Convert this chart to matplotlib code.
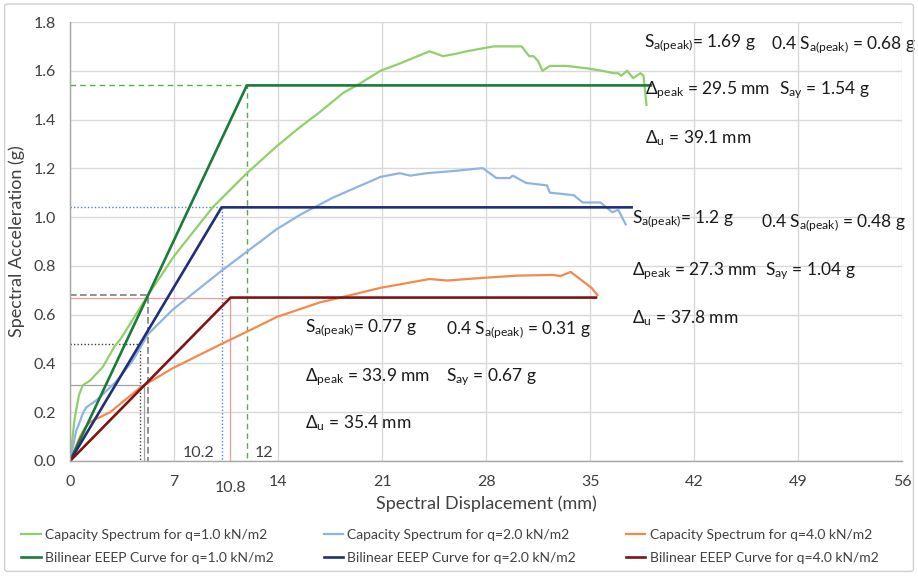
import matplotlib.pyplot as plt
from matplotlib.patches import FancyBboxPatch

plt.rcParams['font.family'] = ['Lato', 'DejaVu Sans']
plt.rcParams['mathtext.fontset'] = 'custom'
plt.rcParams['mathtext.rm'] = 'Lato'
plt.rcParams['mathtext.it'] = 'Lato'

# capacity spectra (Sd in mm, Sa in g)
cap1_sd = [0, 0.3, 0.6, 0.85, 1.35, 2.2, 3.0, 3.4, 5.25, 7.0, 9.6, 11.9, 13.9, 15.5, 16.8,
           18.4, 19.3, 20.9, 22.2, 24.2, 25.1, 26.0, 26.7, 28.5, 30.1, 30.4, 30.9, 31.2,
           31.5, 31.8, 32.3, 33.4, 34.8, 35.8, 36.6, 36.9, 37.1, 37.5, 37.9, 38.4, 38.6, 38.8]
cap1_sa = [0, 0.17, 0.27, 0.31, 0.33, 0.385, 0.47, 0.50, 0.68, 0.84, 1.04, 1.18, 1.29, 1.37, 1.43,
           1.51, 1.54, 1.60, 1.63, 1.68, 1.66, 1.67, 1.68, 1.70, 1.70, 1.70, 1.66, 1.66,
           1.64, 1.60, 1.62, 1.62, 1.61, 1.60, 1.59, 1.59, 1.58, 1.60, 1.57, 1.59, 1.58, 1.46]

cap2_sd = [0, 0.4, 0.9, 1.1, 1.8, 3.1, 4.2, 5.25, 6.9, 10.2, 13.9, 15.5, 17.7, 20.9, 22.2,
           22.9, 24.0, 26.0, 27.6, 27.8, 28.7, 29.6, 29.8, 30.7, 32.1, 32.3, 33.9, 34.5,
           35.7, 36.5, 36.9, 37.4]
cap2_sa = [0, 0.12, 0.20, 0.22, 0.25, 0.325, 0.41, 0.52, 0.62, 0.78, 0.95, 1.01, 1.08, 1.165, 1.18,
           1.17, 1.18, 1.19, 1.20, 1.20, 1.16, 1.16, 1.17, 1.14, 1.13, 1.10, 1.09, 1.06,
           1.06, 1.02, 1.03, 0.97]

cap4_sd = [0, 0.67, 1.0, 1.35, 2.7, 4.7, 6.9, 10.2, 11.9, 13.9, 16.8, 18.2, 20.9, 24.2, 25.4,
           27.6, 30.1, 32.5, 33.0, 33.7, 35.1, 35.5]
cap4_sa = [0, 0.10, 0.135, 0.16, 0.20, 0.30, 0.38, 0.48, 0.53, 0.59, 0.65, 0.67, 0.71, 0.746, 0.74,
           0.75, 0.76, 0.763, 0.758, 0.775, 0.71, 0.68]

# bilinear EEEP idealisation: yield and ultimate points
bil1_sd = [0, 11.9, 39.1]
bil1_sa = [0, 1.54, 1.54]
bil2_sd = [0, 10.2, 37.8]
bil2_sa = [0, 1.04, 1.04]
bil4_sd = [0, 10.8, 35.4]
bil4_sa = [0, 0.67, 0.67]

# 0.4 Sa(peak) intersection with the elastic branch
sa04 = [0.68, 0.48, 0.31]
sd04 = [5.25, 4.7, 5.0]

fig = plt.figure(figsize=(9.18, 5.76), dpi=100)
ax = fig.add_axes([0.0763, 0.1997, 0.9063, 0.7621])

# chart border
fig.patches.append(FancyBboxPatch((0.005, 0.008), 0.99, 0.985, boxstyle='round,pad=0,rounding_size=0.004',
                                  transform=fig.transFigure, fill=False, ec='#d0d0d0', lw=1.0))

grid_c = '#d9d9d9'
ax.set_xlim(0, 56)
ax.set_ylim(0, 1.8)
ax.set_xticks(range(0, 57, 7))
ax.set_yticks([i * 0.2 for i in range(10)])
ax.set_yticklabels(['%.1f' % (i * 0.2) for i in range(10)])
ax.grid(True, color=grid_c, lw=1.0)
ax.set_axisbelow(True)
for s in ['top', 'right']:
    ax.spines[s].set_visible(False)
for s in ['left', 'bottom']:
    ax.spines[s].set_color('#a6a6a6')
    ax.spines[s].set_linewidth(1.0)
ax.tick_params(length=0, labelsize=11.5, colors='#404040', pad=10)
ax.set_xlabel('Spectral Displacement (mm)', fontsize=13, color='#404040', labelpad=5)
ax.set_ylabel('Spectral Acceleration (g)', fontsize=13, color='#404040', labelpad=6)

# guide lines to yield points
ax.plot([0, bil1_sd[1], bil1_sd[1]], [bil1_sa[1], bil1_sa[1], 0], color='#5aa85a', lw=1.0, ls=(0, (4, 3)))
ax.plot([0, bil2_sd[1], bil2_sd[1]], [bil2_sa[1], bil2_sa[1], 0], color='#5b7fd0', lw=1.0, ls=(0, (1, 1.5)))
ax.plot([0, bil4_sd[1], bil4_sd[1]], [bil4_sa[1], bil4_sa[1], 0], color='#f19a9a', lw=0.9)
ax.plot([0, sd04[0], sd04[0]], [sa04[0], sa04[0], 0], color='#7f7f7f', lw=1.2, ls=(0, (4, 2)))
ax.plot([0, sd04[1], sd04[1]], [sa04[1], sa04[1], 0], color='#404040', lw=1.0, ls=(0, (1, 1.5)))
ax.plot([0, sd04[2], sd04[2]], [sa04[2], sa04[2], 0], color='#a0a0a0', lw=0.9)

c_cap1, c_cap2, c_cap4 = '#8fd06a', '#8eb4e3', '#f28a4e'
c_bil1, c_bil2, c_bil4 = '#1b7c3a', '#1f2f78', '#7f1414'

l1, = ax.plot(cap1_sd, cap1_sa, color=c_cap1, lw=1.6, label='Capacity Spectrum for q=1.0 kN/m2')
l2, = ax.plot(cap2_sd, cap2_sa, color=c_cap2, lw=1.6, label='Capacity Spectrum for q=2.0 kN/m2')
l3, = ax.plot(cap4_sd, cap4_sa, color=c_cap4, lw=1.6, label='Capacity Spectrum for q=4.0 kN/m2')
b1, = ax.plot(bil1_sd, bil1_sa, color=c_bil1, lw=1.9, label='Bilinear EEEP Curve for q=1.0 kN/m2')
b2, = ax.plot(bil2_sd, bil2_sa, color=c_bil2, lw=1.9, label='Bilinear EEEP Curve for q=2.0 kN/m2')
b3, = ax.plot(bil4_sd, bil4_sa, color=c_bil4, lw=1.9, label='Bilinear EEEP Curve for q=4.0 kN/m2')

# yield displacement markers on the axis
tc = '#404040'
ax.text(bil2_sd[1] - 0.5, 0.005, '10.2', ha='right', va='bottom', fontsize=11.5, color=tc)
ax.text(bil4_sd[1], -0.082, '10.8', ha='center', va='top', fontsize=11.5, color=tc)
ax.text(bil1_sd[1] + 0.5, 0.005, '12', ha='left', va='bottom', fontsize=11.5, color=tc)

# key values for each load case
fs = 12.5
def note(x, y, s):
    ax.text(x, y, s, fontsize=fs, color='#1a1a1a', va='center', ha='left', clip_on=False)

note(38.6, 1.715, r'S$_{\mathrm{a(peak)}}$= 1.69 g')
note(47.2, 1.705, r'0.4 S$_{\mathrm{a(peak)}}$ = 0.68 g')
note(38.7, 1.52, r'Δ$_{\mathrm{peak}}$ = 29.5 mm')
note(47.7, 1.52, r'S$_{\mathrm{ay}}$ = 1.54 g')
note(38.7, 1.325, r'Δ$_{\mathrm{u}}$ = 39.1 mm')
note(37.8, 0.99, r'S$_{\mathrm{a(peak)}}$= 1.2 g')
note(46.5, 0.975, r'0.4 S$_{\mathrm{a(peak)}}$ = 0.48 g')
note(37.8, 0.78, r'Δ$_{\mathrm{peak}}$ = 27.3 mm')
note(46.8, 0.78, r'S$_{\mathrm{ay}}$ = 1.04 g')
note(37.8, 0.585, r'Δ$_{\mathrm{u}}$ = 37.8 mm')
note(15.8, 0.545, r'S$_{\mathrm{a(peak)}}$= 0.77 g')
note(25.3, 0.535, r'0.4 S$_{\mathrm{a(peak)}}$ = 0.31 g')
note(15.8, 0.345, r'Δ$_{\mathrm{peak}}$ = 33.9 mm')
note(25.3, 0.345, r'S$_{\mathrm{ay}}$ = 0.67 g')
note(15.8, 0.155, r'Δ$_{\mathrm{u}}$ = 35.4 mm')

fig.legend(handles=[l1, b1, l2, b2, l3, b3], loc='lower center', bbox_to_anchor=(0.49, 0.0),
           ncol=3, frameon=False, fontsize=10, handlelength=1.4, handletextpad=0.3,
           columnspacing=3.6, labelspacing=0.75, labelcolor='#404040')

fig.savefig('out.png', dpi=100)
